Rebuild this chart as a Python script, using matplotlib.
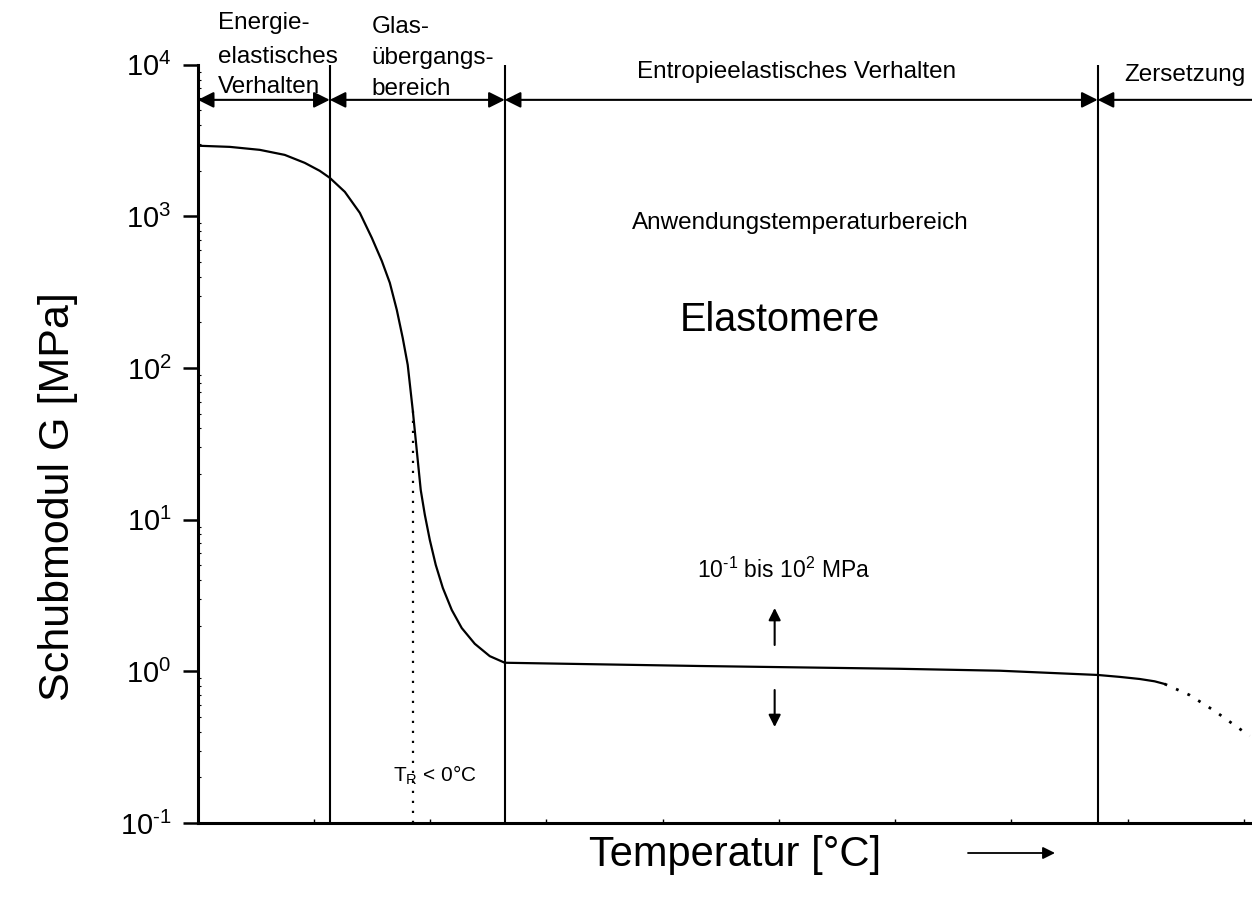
import matplotlib
matplotlib.use('Agg')
import matplotlib.pyplot as plt
import numpy as np
from matplotlib.ticker import LogLocator, MultipleLocator, FixedLocator

plt.rcParams['font.family'] = ['Liberation Sans', 'DejaVu Sans']
plt.rcParams['mathtext.fontset'] = 'custom'
plt.rcParams['mathtext.rm'] = 'Liberation Sans'
plt.rcParams['mathtext.it'] = 'Liberation Sans'

# curve (temperature in axis units, G in MPa)
temp = [0.017, 0.275, 0.533, 0.748, 0.920, 1.049, 1.135, 1.265, 1.394, 1.497,
        1.583, 1.652, 1.712, 1.763, 1.806, 1.849, 1.892, 1.918, 1.953, 1.996,
        2.047, 2.108, 2.185, 2.271, 2.383, 2.512, 2.641, 4.318, 6.04, 6.90,
        7.742, 7.93, 8.103, 8.232, 8.318]
modul = [2925, 2877, 2750, 2547, 2257, 2000, 1799, 1453, 1056, 723,
         509, 365, 242, 158, 105, 53.0, 24.8, 15.7, 10.8, 7.36,
         5.04, 3.55, 2.54, 1.93, 1.52, 1.26, 1.14, 1.085, 1.04, 1.01,
         0.947, 0.92, 0.891, 0.86, 0.826]
temp_zers = [8.318, 8.533, 8.749, 9.05]
modul_zers = [0.826, 0.698, 0.548, 0.375]

t_grenzen = [1.135, 2.641, 7.742]
t_r = 1.849
g_r = 53.0
x_max = 9.07

fig = plt.figure(figsize=(12.52, 9.08), dpi=100)
ax = fig.add_axes([0.158, 0.0936, 0.842, 0.835])

ax.plot(temp, modul, color='black', lw=1.6, solid_joinstyle='round')
ax.plot(temp_zers, modul_zers, color='black', lw=2, ls=(0, (1, 3.5)))
ax.plot([t_r, t_r], [0.1, g_r], color='black', lw=1.6, ls=(0, (1, 3.5)))
for t in t_grenzen:
    ax.plot([t, t], [0.1, 1e4], color='black', lw=1.5)

ax.set_yscale('log')
ax.set_ylim(0.1, 1e4)
ax.set_xlim(0, x_max)

ax.spines['top'].set_visible(False)
ax.spines['right'].set_visible(False)
ax.spines['left'].set_linewidth(2.2)
ax.spines['bottom'].set_linewidth(2.2)

ax.yaxis.set_major_locator(FixedLocator([0.1, 1, 10, 100, 1000, 10000]))
ax.set_yticklabels([r'$10^{\text{-}1}$', r'$10^{0}$', r'$10^{1}$', r'$10^{2}$',
                    r'$10^{3}$', r'$10^{4}$'])
ax.yaxis.set_minor_locator(LogLocator(base=10, subs=np.arange(2, 10)))
ax.yaxis.set_minor_formatter(plt.NullFormatter())
ax.tick_params(axis='y', which='major', direction='out', length=11, width=1.8,
               labelsize=21, pad=8)
ax.tick_params(axis='y', which='minor', direction='in', length=2.5, width=0.8)
ax.xaxis.set_major_locator(MultipleLocator(1))
ax.tick_params(axis='x', which='major', direction='in', length=3, width=1,
               labelbottom=False)

# arrows for the regions
y_pfeil = 5875
kopf = dict(arrowstyle='<|-|>', color='black', lw=1.5, mutation_scale=24,
            shrinkA=0, shrinkB=0)
ax.annotate('', xy=(0, y_pfeil), xytext=(t_grenzen[0], y_pfeil), arrowprops=kopf)
ax.annotate('', xy=(t_grenzen[0], y_pfeil), xytext=(t_grenzen[1], y_pfeil), arrowprops=kopf)
ax.annotate('', xy=(t_grenzen[1], y_pfeil), xytext=(t_grenzen[2], y_pfeil), arrowprops=kopf)
ax.annotate('', xy=(t_grenzen[2], y_pfeil), xytext=(x_max, y_pfeil),
            arrowprops=dict(arrowstyle='-|>', color='black', lw=1.5,
                            mutation_scale=24, shrinkA=0, shrinkB=0),
            annotation_clip=False)

fs = 17.5
ax.text(0.172, 10**4.277, 'Energie-', fontsize=fs, va='center', ha='left')
ax.text(0.172, 10**4.053, 'elastisches', fontsize=fs, va='center', ha='left')
ax.text(0.172, 10**3.855, 'Verhalten', fontsize=fs, va='center', ha='left')
ax.text(1.497, 10**4.25, 'Glas-', fontsize=fs, va='center', ha='left')
ax.text(1.497, 10**4.046, 'übergangs-', fontsize=fs, va='center', ha='left')
ax.text(1.497, 10**3.84, 'bereich', fontsize=fs, va='center', ha='left')
ax.text(5.153, 10**3.954, 'Entropieelastisches Verhalten', fontsize=fs,
        va='center', ha='center')
ax.text(8.49, 10**3.934, 'Zersetzung', fontsize=fs, va='center', ha='center')
ax.text(5.18, 10**2.958, 'Anwendungstemperaturbereich', fontsize=fs,
        va='center', ha='center')
ax.text(5.006, 10**2.318, 'Elastomere', fontsize=28.5, va='center', ha='center')
ax.text(5.04, 10**0.669, r'10$^{\text{-}1}$ bis 10$^{2}$ MPa', fontsize=16.5,
        va='center', ha='center')
ax.text(2.04, 10**-0.683, r'T$_{\rm R}$ < 0°C', fontsize=15,
        va='center', ha='center')

klein = dict(arrowstyle='-|>', color='black', lw=1.5, mutation_scale=18,
             shrinkA=0, shrinkB=0)
ax.annotate('', xy=(4.963, 10**0.418), xytext=(4.963, 10**0.174), arrowprops=klein)
ax.annotate('', xy=(4.963, 10**-0.367), xytext=(4.963, 10**-0.123), arrowprops=klein)

ax.set_ylabel('Schubmodul G [MPa]', fontsize=31)
ax.yaxis.set_label_coords(-0.114, 0.43)
ax.set_xlabel('Temperatur [°C]', fontsize=30)
ax.xaxis.set_label_coords(0.51, -0.016)
ax.annotate('', xy=(1055, 55), xytext=(968, 55), xycoords='figure pixels',
            textcoords='figure pixels',
            arrowprops=dict(arrowstyle='-|>', color='black', lw=1.3,
                            mutation_scale=18, shrinkA=0, shrinkB=0))

fig.savefig('out.png', dpi=100)
